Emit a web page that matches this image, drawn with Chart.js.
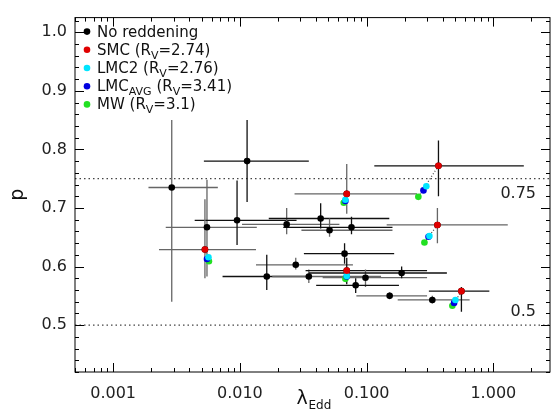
<!DOCTYPE html>
<html>
<head>
<script src="https://cdn.jsdelivr.net/npm/chart.js@4.4.0/dist/chart.umd.min.js"></script>
<style>
  body { margin: 0; background: #fff; }
  #wrap { width: 557px; height: 413px; }
</style>
</head>
<body>
<div id="wrap"><canvas id="myChart"></canvas></div>
<script>
// black points (no reddening) with error bars
var bx   = [0.0029, 0.0114, 0.0055, 0.0095, 0.0234, 0.0434, 0.051, 0.076, 0.0697, 0.067, 0.0276, 0.0163, 0.035, 0.0697, 0.098, 0.082, 0.152, 0.189, 0.33, 0.369, 0.362, 0.56, 0.0053];
var by   = [0.735, 0.78, 0.667, 0.679, 0.672, 0.682, 0.662, 0.667, 0.724, 0.622, 0.603, 0.583, 0.583, 0.593, 0.581, 0.568, 0.55, 0.589, 0.543, 0.772, 0.671, 0.558, 0.629];
var bxLo = [0.0019, 0.0052, 0.0026, 0.0044, 0.0104, 0.0169, 0.0306, 0.022, 0.027, 0.032, 0.0134, 0.0073, 0.018, 0.033, 0.045, 0.04, 0.083, 0.035, 0.176, 0.115, 0.144, 0.31, 0.0023];
var bxHi = [0.0067, 0.035, 0.0136, 0.028, 0.061, 0.151, 0.16, 0.16, 0.25, 0.165, 0.078, 0.035, 0.13, 0.3, 0.3, 0.18, 0.3, 0.43, 0.65, 1.74, 1.3, 0.93, 0.0134];
var byLo = [0.54, 0.71, 0.583, 0.637, 0.655, 0.665, 0.651, 0.655, 0.69, 0.605, 0.595, 0.56, 0.572, 0.57, 0.565, 0.555, 0.545, 0.58, 0.537, 0.72, 0.64, 0.523, 0.58];
var byHi = [0.85, 0.85, 0.748, 0.747, 0.70, 0.708, 0.682, 0.685, 0.775, 0.64, 0.615, 0.62, 0.595, 0.615, 0.595, 0.58, 0.556, 0.60, 0.55, 0.815, 0.70, 0.565, 0.715];

// dereddened points
var smcX  = [0.369, 0.362, 0.56, 0.0697, 0.0053, 0.0697];
var smcY  = [0.772, 0.671, 0.558, 0.724, 0.629, 0.593];
var lmc2X = [0.296, 0.313, 0.502, 0.068, 0.00565, 0.0697];
var lmc2Y = [0.737, 0.652, 0.543, 0.714, 0.616, 0.584];
var lmcX  = [0.281, 0.308, 0.49, 0.068, 0.0055, 0.0697];
var lmcY  = [0.730, 0.651, 0.538, 0.712, 0.613, 0.583];
var mwX   = [0.256, 0.286, 0.475, 0.066, 0.0057, 0.068];
var mwY   = [0.719, 0.641, 0.533, 0.709, 0.609, 0.579];

var xTicks = [0.001, 0.01, 0.1, 1];
var yTicks = [0.5, 0.6, 0.7, 0.8, 0.9, 1.0];
var refLines = [0.5, 0.75];

var FONT = 'DejaVu Sans';

function pts(xs, ys) {
    var out = [];
    for (var i = 0; i < xs.length; i++) out.push({ x: xs[i], y: ys[i] });
    return out;
}

function ds(label, xs, ys, color) {
    return {
        label: label, data: pts(xs, ys), backgroundColor: color, borderColor: color,
        pointRadius: 3.3, pointHoverRadius: 3.3, borderWidth: 0, showLine: false
    };
}

var extras = {
    id: 'extras',
    beforeDatasetsDraw: function (chart) {
        var c = chart.ctx, xs = chart.scales.x, ys = chart.scales.y, a = chart.chartArea;
        c.save();
        // dotted reference lines
        c.strokeStyle = '#444'; c.lineWidth = 1.2; c.setLineDash([1.5, 3]);
        refLines.forEach(function (v) {
            var py = ys.getPixelForValue(v);
            c.beginPath(); c.moveTo(a.left, py); c.lineTo(a.right, py); c.stroke();
        });
        // dotted connectors between SMC and MW
        c.setLineDash([1, 2]);
        for (var k = 0; k < smcX.length; k++) {
            c.beginPath();
            c.moveTo(xs.getPixelForValue(smcX[k]), ys.getPixelForValue(smcY[k]));
            c.lineTo(xs.getPixelForValue(mwX[k]), ys.getPixelForValue(mwY[k]));
            c.stroke();
        }
        c.setLineDash([]);
        // error bars
        for (var i = 0; i < bx.length; i++) {
            c.strokeStyle = i % 2 ? '#111' : '#666';
            c.lineWidth = 1.3;
            var px = xs.getPixelForValue(bx[i]), py = ys.getPixelForValue(by[i]);
            c.beginPath();
            c.moveTo(xs.getPixelForValue(bxLo[i]), py); c.lineTo(xs.getPixelForValue(bxHi[i]), py);
            c.moveTo(px, ys.getPixelForValue(byLo[i])); c.lineTo(px, ys.getPixelForValue(byHi[i]));
            c.stroke();
        }
        c.fillStyle = '#222';
        c.font = '16px ' + FONT;
        c.textAlign = 'right'; c.textBaseline = 'middle';
        c.fillText('0.75', a.right - 14, ys.getPixelForValue(0.75) + 15);
        c.fillText('0.5', a.right - 14, ys.getPixelForValue(0.5) - 13);
        c.restore();
    },
    afterDraw: function (chart) {
        var c = chart.ctx, xs = chart.scales.x, ys = chart.scales.y, a = chart.chartArea;
        c.save();
        // frame
        c.strokeStyle = '#000'; c.lineWidth = 1;
        c.strokeRect(a.left, a.top, a.right - a.left, a.bottom - a.top);
        // x ticks (log, major + minor) on top and bottom
        for (var e = -4; e <= 0; e++) {
            for (var m = 1; m <= 9; m++) {
                var v = m * Math.pow(10, e);
                if (v < xs.min || v > xs.max) continue;
                var px = Math.round(xs.getPixelForValue(v)) + 0.5, len = m === 1 ? 9 : 4;
                c.beginPath();
                c.moveTo(px, a.bottom); c.lineTo(px, a.bottom - len);
                c.moveTo(px, a.top); c.lineTo(px, a.top + len);
                c.stroke();
            }
        }
        // y ticks on left and right
        for (var t = 42; t <= 102; t++) {
            var yv = t / 100;
            if (yv < ys.min || yv > ys.max) continue;
            var py = Math.round(ys.getPixelForValue(yv)) + 0.5, ylen = t % 10 === 0 ? 9 : 4;
            if (t % 2 && t % 10 !== 0) continue;
            c.beginPath();
            c.moveTo(a.left, py); c.lineTo(a.left + ylen, py);
            c.moveTo(a.right, py); c.lineTo(a.right - ylen, py);
            c.stroke();
        }
        // x title with subscript
        c.fillStyle = '#111';
        c.textBaseline = 'alphabetic'; c.textAlign = 'left';
        var cx = (a.left + a.right) / 2;
        c.font = '19px ' + FONT;
        c.fillText('λ', cx - 16, 404);
        c.font = '12px ' + FONT;
        c.fillText('Edd', cx - 4, 409);
        // legend
        var items = [
            ['#000', 'No reddening', '', ''],
            ['#e00000', 'SMC (R', 'V', '=2.74)'],
            ['#00e5ff', 'LMC2 (R', 'V', '=2.76)'],
            ['#0000e0', 'LMC', 'AVG', ' (R|V|=3.41)'],
            ['#22e022', 'MW (R', 'V', '=3.1)']
        ];
        var lx = a.left + 12, ly = a.top + 19;
        items.forEach(function (it, i) {
            var yy = ly + i * 18.2;
            c.fillStyle = it[0];
            c.beginPath(); c.arc(lx, yy - 5, 3.3, 0, Math.PI * 2); c.fill();
            c.fillStyle = '#111';
            var x0 = lx + 10;
            c.font = '15px ' + FONT;
            c.fillText(it[1], x0, yy); x0 += c.measureText(it[1]).width;
            if (it[2]) {
                c.font = '11px ' + FONT;
                c.fillText(it[2], x0, yy + 4); x0 += c.measureText(it[2]).width;
            }
            var parts = it[3].split('|');
            c.font = '15px ' + FONT;
            c.fillText(parts[0], x0, yy); x0 += c.measureText(parts[0]).width;
            if (parts.length > 1) {
                c.font = '11px ' + FONT;
                c.fillText(parts[1], x0, yy + 4); x0 += c.measureText(parts[1]).width;
                c.font = '15px ' + FONT;
                c.fillText(parts[2], x0, yy);
            }
        });
        c.restore();
    }
};

new Chart(document.getElementById('myChart'), {
    type: 'scatter',
    data: {
        datasets: [
            ds('No reddening', bx, by, '#000'),
            ds('MW', mwX, mwY, '#22e022'),
            ds('LMC', lmcX, lmcY, '#0000e0'),
            ds('LMC2', lmc2X, lmc2Y, '#00e5ff'),
            ds('SMC', smcX, smcY, '#e00000')
        ].reverse()
    },
    options: {
        responsive: true, maintainAspectRatio: false, animation: false,
        layout: { padding: { left: 5, right: 7, top: 5, bottom: 0 } },
        plugins: { legend: { display: false }, tooltip: { enabled: false } },
        scales: {
            x: {
                type: 'logarithmic', min: 0.0005, max: 2.8,
                afterBuildTicks: function (s) { s.ticks = xTicks.map(function (v) { return { value: v }; }); },
                afterFit: function (s) { s.height = 41; },
                grid: { display: false, drawTicks: false },
                border: { display: false },
                ticks: {
                    color: '#222', padding: 12, maxRotation: 0, autoSkip: false,
                    font: { family: FONT, size: 16 },
                    callback: function (v) { return Number(v).toFixed(3); }
                }
            },
            y: {
                min: 0.42, max: 1.025,
                afterBuildTicks: function (s) { s.ticks = yTicks.map(function (v) { return { value: v }; }); },
                afterFit: function (s) { s.width = 70; },
                grid: { display: false, drawTicks: false },
                border: { display: false },
                title: { display: true, text: 'p', color: '#111', font: { family: FONT, size: 19 }, padding: 2 },
                ticks: {
                    color: '#222', padding: 8,
                    font: { family: FONT, size: 16 },
                    callback: function (v) { return Number(v).toFixed(1); }
                }
            }
        }
    },
    plugins: [extras]
});
</script>
</body>
</html>
